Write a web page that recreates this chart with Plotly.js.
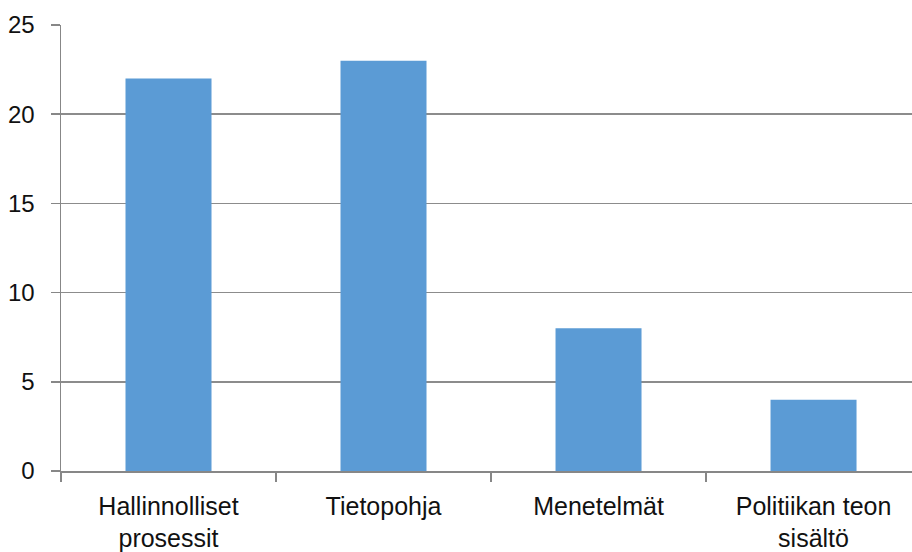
<!DOCTYPE html>
<html>
<head>
<meta charset="utf-8">
<script src="https://cdn.plot.ly/plotly-3.0.1.min.js"></script>
<style>html,body{margin:0;padding:0;background:#fff;}#chart{width:912px;height:552px;}</style>
</head>
<body>
<div id="chart"></div>
<script>
const categories = ["Hallinnolliset<br>prosessit", "Tietopohja", "Menetelmät", "Politiikan teon<br>sisältö"];
const values = [22, 23, 8, 4];
const yTicks = [0, 5, 10, 15, 20, 25];

const trace = {
  type: "bar",
  x: categories,
  y: values,
  marker: {color: "#5B9BD5", line: {width: 0}},
  width: 0.4,
  hoverinfo: "none"
};

const layout = {
  width: 912,
  height: 552,
  margin: {l: 61, r: 0, t: 25, b: 81, pad: 0},
  paper_bgcolor: "#ffffff",
  plot_bgcolor: "#ffffff",
  showlegend: false,
  font: {family: "Liberation Sans, Arial, sans-serif", size: 24, color: "#111111"},
  xaxis: {
    type: "category",
    range: [-0.5, 3.458],
    showgrid: false,
    showline: true,
    linecolor: "#878787",
    linewidth: 1.5,
    ticks: "outside",
    tickson: "boundaries",
    ticklen: 9,
    tickcolor: "#878787",
    tickwidth: 1.5,
    zeroline: false,
    automargin: false,
    ticklabelstandoff: 12,
    tickfont: {size: 25}
  },
  yaxis: {
    range: [0, 25],
    tickvals: yTicks,
    ticktext: yTicks.map(String),
    showgrid: true,
    gridcolor: "#8c8c8c",
    gridwidth: 1.5,
    showline: true,
    linecolor: "#878787",
    linewidth: 1.5,
    ticks: "outside",
    ticklen: 9,
    tickcolor: "#878787",
    tickwidth: 1.5,
    zeroline: false,
    automargin: false,
    ticklabelstandoff: 11,
    tickfont: {size: 24}
  }
};

Plotly.newPlot("chart", [trace], layout, {displayModeBar: false, staticPlot: true});
</script>
</body>
</html>
